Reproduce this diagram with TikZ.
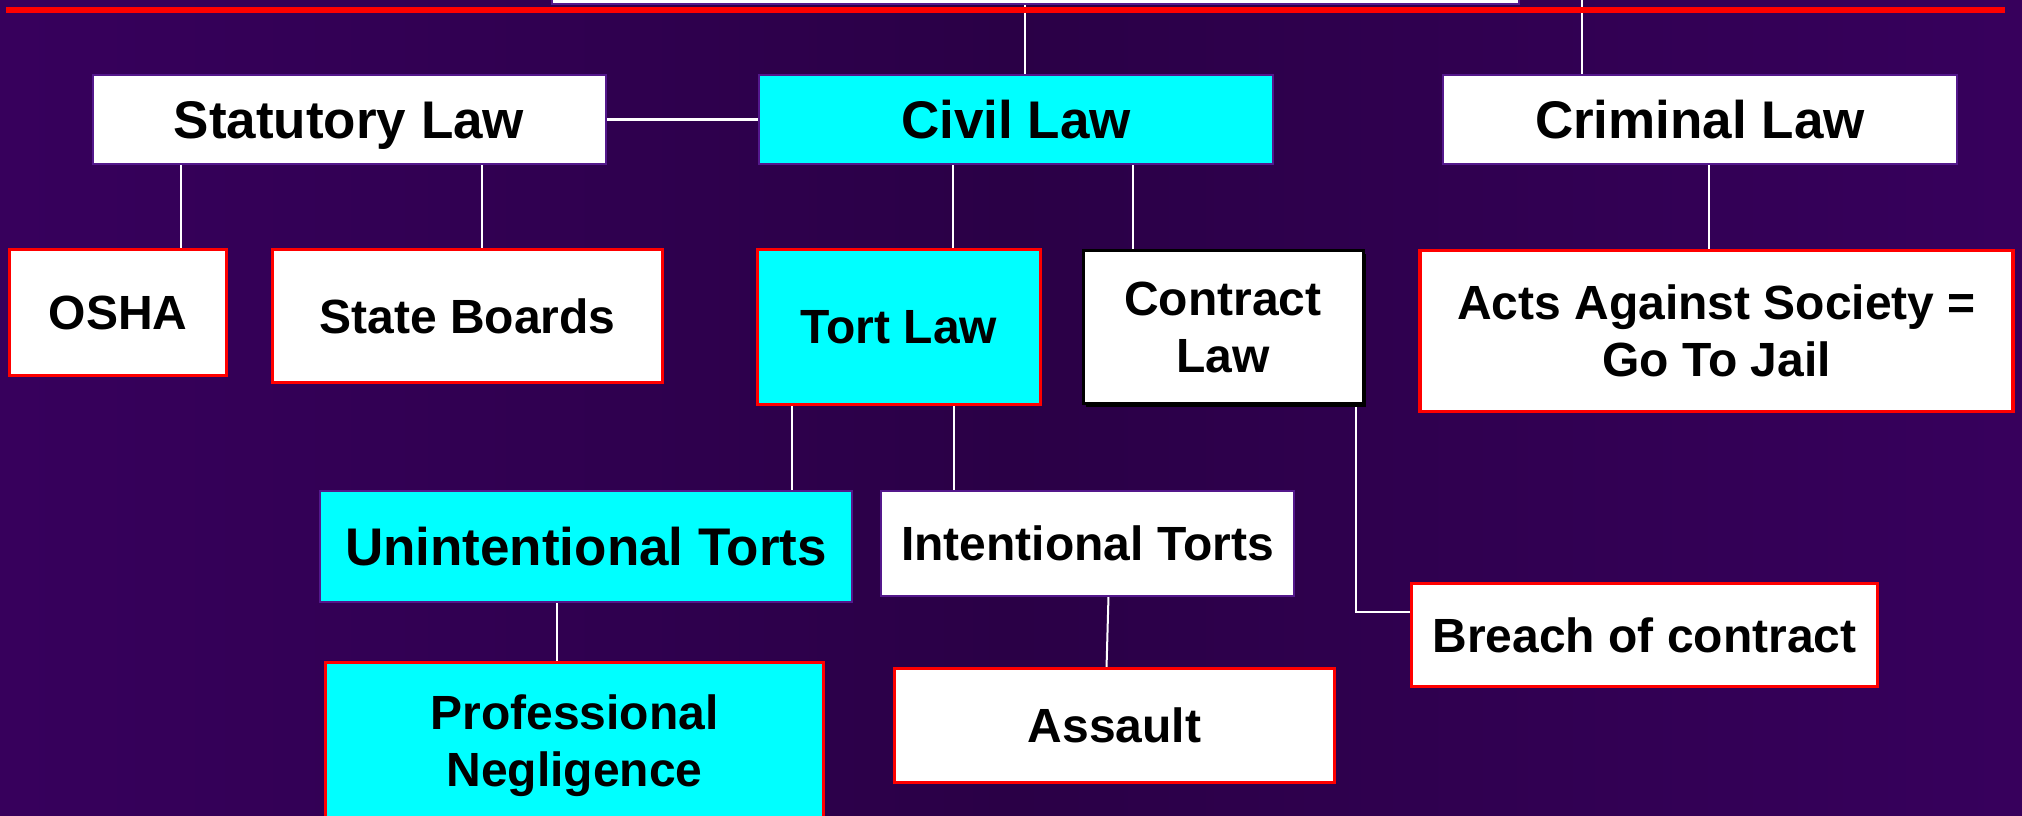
\documentclass[tikz,border=0pt]{standalone}
\usepackage{fontspec}
\setmainfont{Liberation Sans}
\usetikzlibrary{shadows}
\definecolor{bgedge}{RGB}{68,0,115}
\definecolor{bgmid}{RGB}{42,0,70}
\definecolor{pborder}{RGB}{84,24,140}
\definecolor{cyanbox}{RGB}{0,255,255}
\definecolor{barred}{RGB}{255,0,0}
\pgfdeclarehorizontalshading{bgshade}{100bp}{color(0bp)=(bgedge); color(50bp)=(bgmid); color(100bp)=(bgedge)}
\pgfdeclarelayer{back}
\pgfdeclarelayer{links}
\pgfsetlayers{back,links,main}
\begin{document}
\begin{tikzpicture}[x=1pt,y=-1pt,
  box/.style={rectangle, inner sep=0pt, outer sep=0pt, align=center,
              font=\bfseries\fontsize{48}{57}\selectfont, text=black},
  big/.style={font=\bfseries\fontsize{53}{62}\selectfont},
  redbox/.style={box, draw=barred, line width=3.5pt},
  plainbox/.style={box, draw=pborder, line width=2pt},
  whitefill/.style={fill=white},
  cyanfill/.style={fill=cyanbox},
  link/.style={draw=white, line width=2pt},
]
\useasboundingbox (0,0) rectangle (2022,816);
\clip (0,0) rectangle (2022,816);
\begin{pgfonlayer}{back}
  \shade[shading=bgshade] (0,0) rectangle (2022,816);
\end{pgfonlayer}

% nodes
\node[plainbox, whitefill, minimum width=967pt, minimum height=44pt] (top) at (1035.5,-18) {};

\node[plainbox, whitefill, big, text depth=0pt, minimum width=513pt, minimum height=89pt] (statutory) at (349,119.5) {Statutory Law};
\node[plainbox, cyanfill, big, minimum width=514pt, minimum height=89pt] (civil) at (1016,119.5) {Civil Law};
\node[plainbox, whitefill, big, minimum width=514pt, minimum height=89pt] (criminal) at (1700,119.5) {Criminal Law};

\node[redbox, whitefill, minimum width=217pt, minimum height=126pt] (osha) at (118,312.5) {OSHA};
\node[redbox, whitefill, minimum width=390pt, minimum height=133pt] (state) at (467.5,316) {State Boards};
\node[redbox, cyanfill, minimum width=283pt, minimum height=155pt] (tort) at (899,327) {Tort Law};
\node[box, whitefill, draw=black, line width=3pt, minimum width=280pt, minimum height=153pt,
      drop shadow={shadow xshift=3pt, shadow yshift=-3pt, fill=black, opacity=1}] (contract) at (1223,327) {Contract\\Law};
\node[redbox, whitefill, minimum width=593pt, minimum height=161pt] (acts) at (1716.5,331) {Acts Against Society =\\Go To Jail};

\node[plainbox, cyanfill, big, minimum width=532pt, minimum height=111pt] (unint) at (586,546.5) {Unintentional Torts};
\node[plainbox, whitefill, minimum width=413pt, minimum height=105pt] (intent) at (1087.5,543.5) {Intentional Torts};
\node[redbox, whitefill, minimum width=466pt, minimum height=103pt] (breach) at (1644.5,635) {Breach of contract};
\node[redbox, cyanfill, minimum width=498pt, minimum height=167pt] (prof) at (574.5,746) {Professional\\Negligence};
\node[redbox, whitefill, minimum width=440pt, minimum height=114pt] (assault) at (1114.5,725.5) {Assault};

\coordinate (crimtop) at (1582,0);

% connectors
\begin{pgfonlayer}{links}
\draw[link] ([xshift=9pt]civil.north) -- ([xshift=9pt]civil.north |- top.south);
\draw[link] (crimtop) -- (crimtop |- criminal.north);
\draw[link, line width=3pt] (statutory.east) -- (civil.west);
\draw[link] ([xshift=62.5pt]osha.north) -- ([xshift=62.5pt]osha.north |- statutory.south);
\draw[link] ([xshift=14.5pt]state.north) -- ([xshift=14.5pt]state.north |- statutory.south);
\draw[link] ([xshift=54pt]tort.north) -- ([xshift=54pt]tort.north |- civil.south);
\draw[link] ([xshift=-90pt]contract.north) -- ([xshift=-90pt]contract.north |- civil.south);
\draw[link] ([xshift=-8pt]acts.north) -- ([xshift=-8pt]acts.north |- criminal.south);
\draw[link] ([xshift=-107.5pt]tort.south) -- ([xshift=-107.5pt]tort.south |- unint.north);
\draw[link] ([xshift=55pt]tort.south) -- ([xshift=55pt]tort.south |- intent.north);
\draw[link] ([xshift=132.5pt]contract.south) |- ([yshift=23pt]breach.west);
\draw[link] ([xshift=-18pt]prof.north) -- ([xshift=-18pt]prof.north |- unint.south);
\draw[link] ([xshift=21pt]intent.south) -- ([xshift=-8pt]assault.north);
\end{pgfonlayer}

% red bar
\fill[barred] (6,6.7) rectangle (2005,12.7);
\end{tikzpicture}
\end{document}
